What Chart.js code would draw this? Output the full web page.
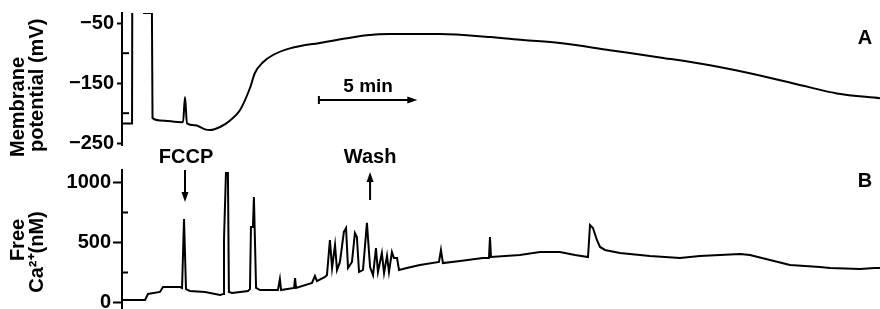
<!DOCTYPE html>
<html>
<head>
<meta charset="utf-8">
<script src="https://cdn.jsdelivr.net/npm/chart.js@4.4.1/dist/chart.umd.min.js"></script>
<style>
  html, body { margin: 0; padding: 0; background: #fff; }
  .wrap { position: relative; width: 880px; height: 309px; }
  .wrap canvas { position: absolute; left: 0; top: 0; }
</style>
</head>
<body>
<div class="wrap">
  <canvas id="chartB" width="880" height="309"></canvas>
  <canvas id="chartA" width="880" height="309"></canvas>
</div>
<script>
/* Panel A: membrane potential (mV) against time (min) */
const timeA = [0, 0.51, 0.52, 0.80, 1.07, 1.52, 1.55, 1.93, 3.05, 3.10, 3.20, 3.30, 3.71, 4.22, 4.47,
  4.98, 5.49, 5.99, 6.50, 6.75, 7.16, 7.67, 8.53, 10.21, 11.43, 12.44, 13.61, 16.15, 18.69, 20.37,
  22.24, 24.78, 27.32, 29.86, 32.40, 34.94, 36.31, 38.50];
const membraneMv = [-217, -217, -33, null, -33, -33, -208, -212, -215, -215, -173, -217, -220, -227, -228,
  -223, -212, -195, -158, -133, -115, -103, -92, -82, -75, -70, -68, -68, -73, -78,
  -83, -95, -107, -120, -137, -157, -167, -175];

/* Panel B: free Ca2+ (nM) against time (min) */
const timeB = [0, 1.17, 1.32, 1.93, 2.08, 2.95, 3.05, 3.15, 3.25, 3.45, 4.22, 4.98, 5.13, 5.18, 5.28,
  5.38, 5.43, 5.59, 6.40, 6.50, 6.55, 6.65, 6.70, 6.81, 7.01, 7.92, 8.02, 8.08, 8.74, 8.79,
  8.84, 9.65, 9.80, 9.90, 10.31, 10.41, 10.56, 10.67, 10.82, 10.92, 11.07, 11.27, 11.38, 11.48, 11.68,
  11.83, 11.93, 12.04, 12.24, 12.44, 12.60, 12.75, 12.90, 13.00, 13.20, 13.31, 13.46, 13.56, 13.71, 13.81,
  13.97, 14.07, 14.47, 15.13, 16.10, 16.20, 16.30, 17.17, 18.33, 18.64, 18.69, 18.74, 20.21, 21.23, 22.24,
  23.01, 23.67, 23.77, 23.92, 24.12, 24.28, 24.53, 25.29, 26.82, 28.34, 29.35, 31.39, 31.89, 32.91, 33.93,
  35.45, 35.96, 37.48, 38.24, 38.50];
const freeCa = [21, 21, 71, 88, 129, 129, 121, 696, 112, 96, 88, 62, 71, 521, 1079,
  1079, 88, 79, 96, 112, 629, 629, 879, 121, 104, 104, 196, 104, 121, 204,
  121, 163, 221, 179, 213, 229, 521, 288, 479, 271, 338, 588, 621, 288, 338,
  579, 546, 254, 271, 663, 296, 229, 454, 254, 413, 246, 388, 254, 421, 371,
  371, 271, 288, 313, 338, 438, 329, 346, 371, 371, 546, 379, 396, 421, 421,
  396, 379, 646, 621, 521, 463, 438, 413, 388, 371, 388, 404, 396, 354, 313,
  296, 288, 279, 288, 288];

const majorTicksA = [-50, -150, -250];
const minorTicksA = [-100, -200];
const majorTicksB = [0, 500, 1000];
const minorTicksB = [250, 750];

const fccpTime = 3.2;
const washTime = 12.6;
const scaleBarStart = 10;
const scaleBarMinutes = 5;

const FONT = '"Liberation Sans", Arial, Helvetica, sans-serif';
Chart.defaults.font.family = FONT;
Chart.defaults.color = "#000";

const toPoints = (xs, ys) => xs.map((x, i) => ({ x: x, y: ys[i] }));

/* small drawing helpers */
const arrowV = (ctx, x, yFrom, yTo) => {
  const d = Math.sign(yTo - yFrom);
  ctx.beginPath();
  ctx.moveTo(x, yFrom);
  ctx.lineTo(x, yTo - d * 6);
  ctx.stroke();
  ctx.beginPath();
  ctx.moveTo(x, yTo);
  ctx.lineTo(x - 3.5, yTo - d * 10);
  ctx.lineTo(x + 3.5, yTo - d * 10);
  ctx.closePath();
  ctx.fill();
};

const vText = (ctx, text, x, y, align) => {
  ctx.save();
  ctx.translate(x, y);
  ctx.rotate(-Math.PI / 2);
  ctx.textAlign = align;
  ctx.textBaseline = "middle";
  ctx.fillText(text, 0, 0);
  ctx.restore();
};

const minorTicks = (ctx, scale, values, len) => {
  values.forEach(v => {
    const y = scale.getPixelForValue(v);
    ctx.beginPath();
    ctx.moveTo(scale.right, y);
    ctx.lineTo(scale.right + len, y);
    ctx.stroke();
  });
};

const yAxis = (min, max, ticks, tickLen, pad) => ({
  min: min,
  max: max,
  afterFit: s => { s.width = 122; s.paddingTop = 0; s.paddingBottom = 0; },
  afterBuildTicks: s => { s.ticks = ticks.map(v => ({ value: v })); },
  border: { display: true, color: "#000", width: 2 },
  grid: { drawOnChartArea: false, tickLength: tickLen, tickWidth: 2, color: "#000" },
  ticks: {
    color: "#000",
    padding: pad,
    font: { size: 20, weight: "bold" },
    callback: v => String(v).replace("-", "\u2212")
  }
});

const xAxis = { type: "linear", display: false, min: 0, max: 38.5 };

const traceStyle = {
  borderColor: "#000",
  borderWidth: 2,
  pointRadius: 0,
  tension: 0,
  fill: false,
  spanGaps: false
};

/* Panel A annotations */
const panelAText = {
  id: "panelAText",
  afterDraw(chart) {
    const { ctx, scales: { x, y } } = chart;
    ctx.save();
    ctx.strokeStyle = "#000";
    ctx.fillStyle = "#000";
    ctx.lineWidth = 2;
    minorTicks(ctx, y, minorTicksA, 7);

    // 5 min scale bar
    const x1 = x.getPixelForValue(scaleBarStart);
    const x2 = x.getPixelForValue(scaleBarStart + scaleBarMinutes);
    const yb = 100;
    ctx.beginPath();
    ctx.moveTo(x1, yb - 4);
    ctx.lineTo(x1, yb + 4);
    ctx.moveTo(x1, yb);
    ctx.lineTo(x2 - 6, yb);
    ctx.stroke();
    ctx.beginPath();
    ctx.moveTo(x2, yb);
    ctx.lineTo(x2 - 10, yb - 3.5);
    ctx.lineTo(x2 - 10, yb + 3.5);
    ctx.closePath();
    ctx.fill();

    ctx.font = "bold 19px " + FONT;
    ctx.textAlign = "center";
    ctx.textBaseline = "middle";
    ctx.fillText("5 min", (x1 + x2) / 2, 87);

    ctx.font = "bold 20px " + FONT;
    ctx.fillText("A", 865, 38);

    vText(ctx, "Membrane", 18, 157, "left");
    vText(ctx, "potential (mV)", 37, 152, "left");
    ctx.restore();
  }
};

/* Panel B annotations */
const panelBText = {
  id: "panelBText",
  afterDraw(chart) {
    const { ctx, scales: { x, y } } = chart;
    ctx.save();
    ctx.strokeStyle = "#000";
    ctx.fillStyle = "#000";
    ctx.lineWidth = 2;
    minorTicks(ctx, y, minorTicksB, 6);

    const xf = x.getPixelForValue(fccpTime);
    const xw = x.getPixelForValue(washTime);
    arrowV(ctx, xf, 170, 202);
    arrowV(ctx, xw, 200, 172);

    ctx.font = "bold 20px " + FONT;
    ctx.textAlign = "center";
    ctx.textBaseline = "middle";
    ctx.fillText("FCCP", xf + 1, 157);
    ctx.fillText("Wash", xw, 157);
    ctx.fillText("B", 865, 181);

    vText(ctx, "Free", 18, 240, "center");
    vText(ctx, "Ca\u00b2\u207a(nM)", 37, 252, "center");
    ctx.restore();
  }
};

new Chart(document.getElementById("chartA"), {
  type: "line",
  data: { datasets: [{ data: toPoints(timeA, membraneMv), ...traceStyle, cubicInterpolationMode: "monotone" }] },
  options: {
    responsive: false,
    devicePixelRatio: 1,
    animation: false,
    layout: { padding: { top: 13, bottom: 164, left: 0, right: 0 } },
    plugins: { legend: { display: false }, tooltip: { enabled: false } },
    scales: { x: xAxis, y: yAxis(-253, -33, majorTicksA, 5, 3) }
  },
  plugins: [panelAText]
});

new Chart(document.getElementById("chartB"), {
  type: "line",
  data: { datasets: [{ data: toPoints(timeB, freeCa), ...traceStyle }] },
  options: {
    responsive: false,
    devicePixelRatio: 1,
    animation: false,
    layout: { padding: { top: 170, bottom: 0, left: 0, right: 0 } },
    plugins: { legend: { display: false }, tooltip: { enabled: false } },
    scales: { x: xAxis, y: yAxis(-54, 1104, majorTicksB, 9, 2) }
  },
  plugins: [panelBText]
});
</script>
</body>
</html>
